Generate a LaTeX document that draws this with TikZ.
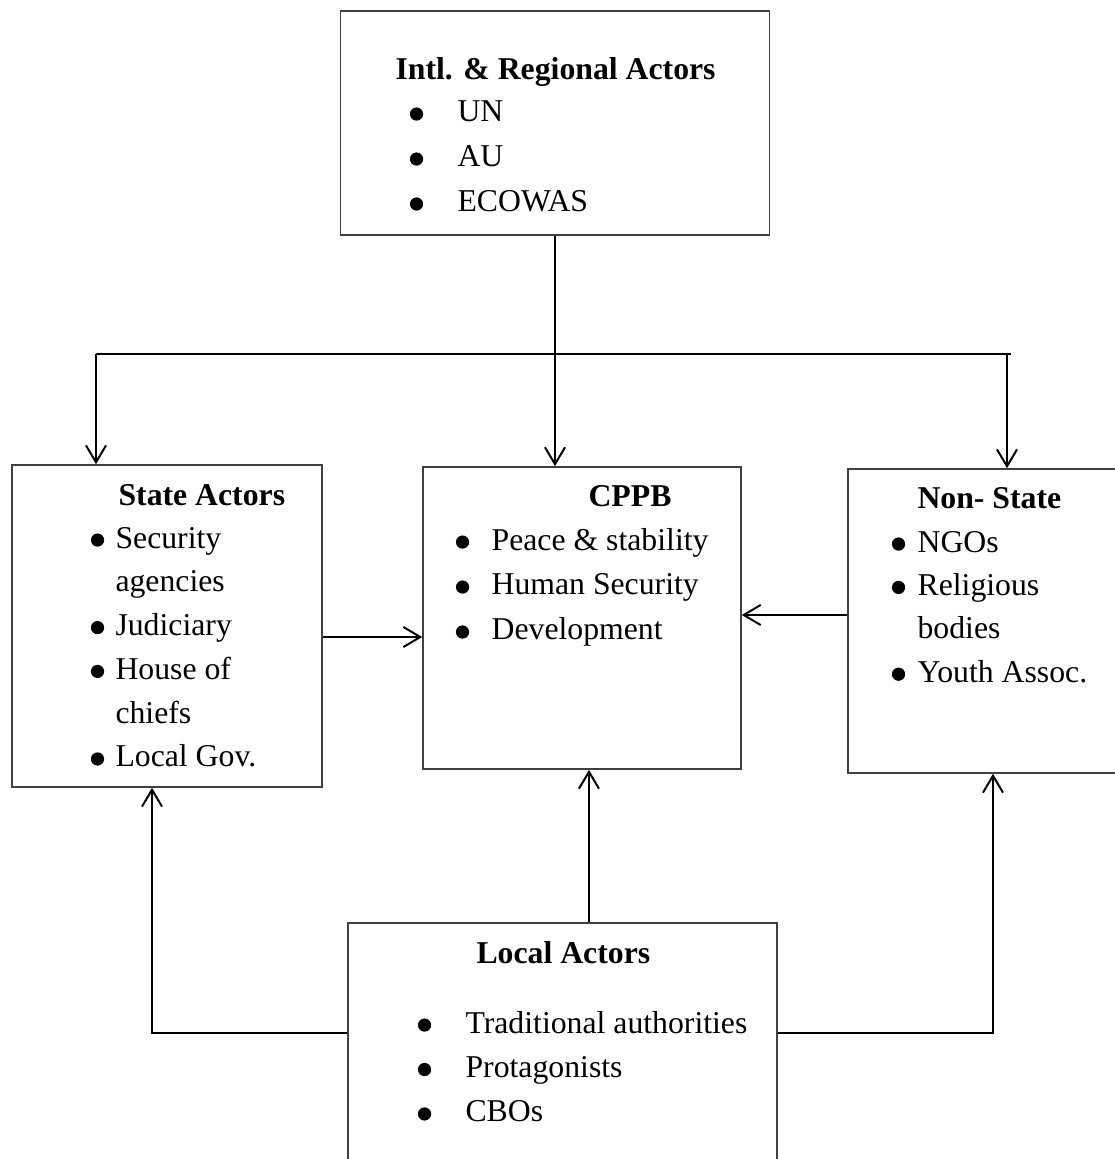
\documentclass[tikz,border=0pt]{standalone}
\usepackage{fontspec}
\setmainfont{Liberation Serif}
\usepackage{tikz}
\usetikzlibrary{arrows.meta,positioning}

\newlength{\bgap}
\newcommand{\dotmark}{\tikz[baseline=0pt]\fill (0pt,3pt) circle (2.5pt);}
\newcommand{\blt}{\makebox[0pt]{\dotmark}\hspace{\bgap}}
\newcommand{\cont}{\hspace*{\bgap}}

\tikzset{
  box/.style   ={rectangle, draw=black!75, line width=0.6pt, inner sep=0pt},
  ttl/.style   ={anchor=base west, inner sep=0pt, font=\fontsize{12}{14}\selectfont\bfseries},
  items/.style ={anchor=base west, inner sep=0pt,
                 execute at begin node={\setlength{\bgap}{#1}}},
  wire/.style  ={line width=0.75pt},
  flow/.style  ={wire, -{Straight Barb[length=6.4pt, width=7.6pt]}},
}

\begin{document}
\begin{tikzpicture}[x=0.378pt, y=-0.378pt]
    \useasboundingbox (0,0) rectangle (1114,1159);

    % boxes
    \node[box, minimum width=162.2pt, minimum height=84.7pt] (intl) at (555,123) {};
    \node[box, minimum width=117.2pt, minimum height=121.7pt] (state) at (167,626) {};
    \node[box, minimum width=120.2pt, minimum height=114.2pt] (cppb) at (582,618) {};
    \node[box, minimum width=106.6pt, minimum height=114.9pt] (ns) at (989,621) {};
    \node[box, minimum width=162.2pt, minimum height=97.1pt] (local) at (562.5,1051.5) {};

    % international and regional
    \node[ttl] (intlttl) at (395,80) {Intl. \& Regional Actors};
    \node[items=15.5pt] (intllist) at (416,122) {\fontsize{12}{17}\selectfont
      \begin{tabular}[t]{@{}l@{}}\blt UN\\ \blt AU\\ \blt ECOWAS\end{tabular}};

    % state actors
    \node[ttl] (statettl) at (118,505) {State Actors};
    \node[items=6.8pt] (statelist) at (97,548) {\fontsize{12}{16.55}\selectfont
      \begin{tabular}[t]{@{}l@{}}\blt Security\\ \cont agencies\\ \blt Judiciary\\
        \blt House of\\ \cont chiefs\\ \blt Local Gov.\end{tabular}};

    % CPPB
    \node[ttl] (cppbttl) at (588,506) {CPPB};
    \node[items=11pt] (cppblist) at (462,550) {\fontsize{12}{17}\selectfont
      \begin{tabular}[t]{@{}l@{}}\blt Peace \& stability\\ \blt Human Security\\
        \blt Development\end{tabular}};

    % non-state actors
    \node[ttl] (nsttl) at (917,508) {Non- State};
    \node[items=7.2pt] (nslist) at (898,552) {\fontsize{12}{16.4}\selectfont
      \begin{tabular}[t]{@{}l@{}}\blt NGOs\\ \blt Religious\\ \cont bodies\\
        \blt Youth Assoc.\end{tabular}};

    % local actors
    \node[ttl] (localttl) at (476,963) {Local Actors};
    \node[items=15.5pt] (locallist) at (424,1033) {\fontsize{12}{16.8}\selectfont
      \begin{tabular}[t]{@{}l@{}}\blt Traditional authorities\\ \blt Protagonists\\
        \blt CBOs\end{tabular}};

    % top-down links
    \coordinate (busL) at (96,354);
    \coordinate (busN) at (1007,354);
    \coordinate (busR) at (1011,354);
    \draw[flow] (intl.south) -- (intl.south |- cppb.north);
    \draw[wire] (busL) -- (busR);
    \draw[flow] (busL) -- (busL |- state.north);
    \draw[flow] (busN) -- (busN |- ns.north);

    % side links into CPPB
    \draw[flow] ([yshift=-4.16pt]state.east) coordinate (sa) -- (sa -| cppb.west);
    \draw[flow] ([yshift=2.27pt]ns.west) coordinate (na) -- (na -| cppb.east);

    % bottom-up links
    \draw[flow] ([xshift=10pt]local.north) coordinate (la) -- (la |- cppb.south);
    \draw[flow] ([yshift=7pt]local.west) -| ([xshift=-5.67pt]state.south);
    \draw[flow] ([yshift=7pt]local.east) -| ([xshift=1.5pt]ns.south);
\end{tikzpicture}
\end{document}
